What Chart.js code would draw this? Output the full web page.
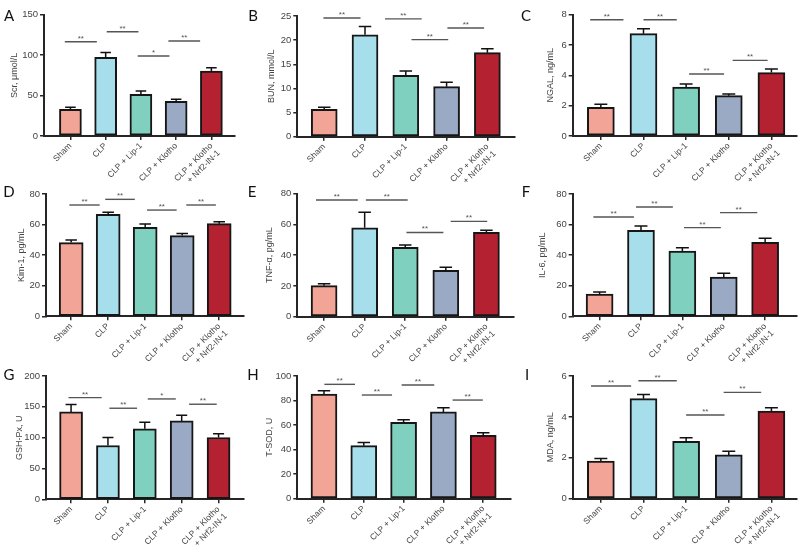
<!DOCTYPE html>
<html><head><meta charset="utf-8">
<script src="https://cdn.jsdelivr.net/npm/chart.js@4.4.1/dist/chart.umd.min.js"></script>
<style>
body{margin:0;background:#fff;width:799px;height:557px;position:relative;overflow:hidden}
canvas{position:absolute}
.lt{position:absolute;font:400 15px Lato, sans-serif;color:#111;line-height:15px;transform:translate(-50%,-50%)}
</style></head><body>
<script>
// ---------- data ----------
const categories = ['Sham', 'CLP', 'CLP + Lip-1', 'CLP + Klotho', ['CLP + Klotho', '+ Nrf2-IN-1']];
const barColors = ['#F2A596', '#A7DEEC', '#7FD0BF', '#9AA9C4', '#B42131'];

const scrMean = [33.0, 97.3, 51.5, 42.9, 80.4];
const scrErr  = [2.4, 6.1, 4.1, 2.4, 4.1];
const scrSig  = [[-0.16, 0.75, 116.6, '**'], [1.03, 1.93, 129, '**'], [1.91, 2.81, 98.9, '*'], [2.78, 3.68, 117.4, '**']];

const bunMean = [5.66, 21.1, 12.7, 10.36, 17.4];
const bunErr  = [0.42, 1.7, 0.9, 0.9, 0.8];
const bunSig  = [[-0.02, 0.89, 24.6, '**'], [1.49, 2.39, 24.4, '**'], [2.14, 3.04, 20.1, '**'], [3.02, 3.92, 22.5, '**']];

const ngalMean = [1.89, 6.75, 3.23, 2.66, 4.18];
const ngalErr  = [0.2, 0.33, 0.2, 0.11, 0.24];
const ngalSig  = [[-0.25, 0.53, 7.67, '**'], [1.0, 1.78, 7.67, '**'], [2.07, 2.89, 4.09, '**'], [3.09, 3.91, 4.99, '**']];

const kimMean = [48.2, 66.7, 58.2, 52.8, 60.6];
const kimErr  = [1.7, 1.3, 2.2, 1.3, 1.3];
const kimSig  = [[-0.05, 0.77, 72.8, '**'], [0.92, 1.72, 76.5, '**'], [2.05, 2.85, 69.5, '**'], [3.11, 3.91, 72.8, '**']];

const tnfMean = [20.2, 57.8, 45.2, 30.2, 54.8];
const tnfErr  = [1.3, 10.2, 1.5, 2.0, 1.5];
const tnfSig  = [[-0.2, 0.83, 75.9, '**'], [1.03, 2.06, 75.9, '**'], [2.03, 2.94, 54.8, '**'], [3.12, 4.02, 62.0, '**']];

const il6Mean = [14.6, 56.2, 42.7, 25.7, 48.4];
const il6Err  = [1.3, 2.9, 2.2, 2.4, 2.6];
const il6Sig  = [[-0.15, 0.83, 65.0, '**'], [0.88, 1.77, 71.5, '**'], [2.04, 2.93, 58.0, '**'], [2.91, 3.81, 67.8, '**']];

const gshMean = [141.8, 87.3, 114.3, 127.2, 100.3];
const gshErr  = [11.8, 13.0, 10.8, 9.2, 5.9];
const gshSig  = [[-0.07, 0.83, 165, '**'], [1.04, 1.79, 147.7, '**'], [2.08, 2.84, 162.8, '*'], [3.2, 3.95, 154.2, '**']];

const sodMean = [85.3, 43.2, 62.2, 70.7, 51.6];
const sodErr  = [2.7, 2.7, 2.2, 3.5, 2.2];
const sodSig  = [[0.01, 0.78, 93.2, '**'], [0.95, 1.71, 84.5, '**'], [1.95, 2.77, 92.7, '**'], [3.23, 3.99, 80.4, '**']];

const mdaMean = [1.84, 4.89, 2.80, 2.14, 4.29];
const mdaErr  = [0.12, 0.21, 0.18, 0.18, 0.16];
const mdaSig  = [[-0.23, 0.71, 5.51, '**'], [0.88, 1.78, 5.77, '**'], [2.0, 2.9, 4.09, '**'], [2.88, 3.76, 5.2, '**']];

const yTitles = ['Scr, μmol/L', 'BUN, mmol/L', 'NGAL, ng/mL', 'Kim-1, pg/mL', 'TNF-α, pg/mL', 'IL-6, pg/mL', 'GSH-Px, U', 'T-SOD, U', 'MDA, ng/mL'];
const yMaxes  = [150, 25, 8, 80, 80, 80, 200, 100, 6];
const ySteps  = [50, 5, 2, 20, 20, 20, 50, 20, 2];
const panelLetters = ['A', 'B', 'C', 'D', 'E', 'F', 'G', 'H', 'I'];

const means = [scrMean, bunMean, ngalMean, kimMean, tnfMean, il6Mean, gshMean, sodMean, mdaMean];
const errs  = [scrErr, bunErr, ngalErr, kimErr, tnfErr, il6Err, gshErr, sodErr, mdaErr];
const sigs  = [scrSig, bunSig, ngalSig, kimSig, tnfSig, il6Sig, gshSig, sodSig, mdaSig];

// ---------- layout (page pixels) ----------
const colLeft = [0, 262, 527];
const rowTop = [0, 182, 364];
const geo = [
  {l:44,    r:235,   t:14.7,  b:136,   xmin:-0.75, xmax:4.67, bw:22, tx:15},
  {l:297.3, r:514.3, t:16,    b:136.7, xmin:-0.66, xmax:4.66, bw:26, tx:272},
  {l:572.7, r:797,   t:14.7,  b:136,   xmin:-0.66, xmax:4.60, bw:27, tx:551},
  {l:46,    r:244,   t:194,   b:316.3, xmin:-0.68, xmax:4.67, bw:24, tx:22},
  {l:297.3, r:514,   t:193.7, b:316.7, xmin:-0.66, xmax:4.68, bw:26, tx:270},
  {l:572.7, r:797,   t:194,   b:316.3, xmin:-0.65, xmax:4.77, bw:27, tx:543},
  {l:46,    r:244,   t:376,   b:499.3, xmin:-0.68, xmax:4.69, bw:23, tx:20},
  {l:297.3, r:510.3, t:376,   b:498.7, xmin:-0.67, xmax:4.68, bw:26, tx:270},
  {l:572.7, r:797,   t:376,   b:498.7, xmin:-0.66, xmax:4.60, bw:27, tx:551}
];
const letterPos = [[9,15],[253,15],[526,15],[9,191],[252,191],[526,191],[9,374],[253,374],[527,374]];

const FONT = "'Liberation Sans', Arial, sans-serif";
const AXIS = '#262626';

function annotPlugin(mean, err, sig) {
  return {
    id: 'annot',
    afterDatasetsDraw(chart) {
      const {ctx, scales: {x, y}} = chart;
      const meta = chart.getDatasetMeta(0);
      ctx.save();
      ctx.strokeStyle = '#111';
      ctx.lineWidth = 1.5;
      err.forEach((e, i) => {
        const bar = meta.data[i];
        const top = y.getPixelForValue(mean[i] + e);
        const hw = bar.width * 0.24;
        ctx.beginPath();
        ctx.moveTo(bar.x, bar.y);
        ctx.lineTo(bar.x, top);
        ctx.moveTo(bar.x - hw, top);
        ctx.lineTo(bar.x + hw, top);
        ctx.stroke();
      });
      ctx.strokeStyle = '#555';
      ctx.fillStyle = '#555';
      ctx.lineWidth = 1.4;
      ctx.font = '8px ' + FONT;
      ctx.textAlign = 'center';
      ctx.textBaseline = 'alphabetic';
      sig.forEach(([a, b, v, label]) => {
        const x1 = x.getPixelForValue(a), x2 = x.getPixelForValue(b), ly = y.getPixelForValue(v);
        ctx.beginPath();
        ctx.moveTo(x1, ly);
        ctx.lineTo(x2, ly);
        ctx.stroke();
        ctx.fillText(label, (x1 + x2) / 2, ly - 1);
      });
      ctx.restore();
    }
  };
}

geo.forEach((g, k) => {
  const col = k % 3, row = Math.floor(k / 3);
  const left = colLeft[col], top = rowTop[row];
  const W = Math.round(col === 2 ? 799 - left : g.r - left + 4);
  const H = Math.round(g.b + 58 - top);
  const cv = document.createElement('canvas');
  cv.width = W; cv.height = H;
  cv.style.left = left + 'px'; cv.style.top = top + 'px';
  cv.style.width = W + 'px'; cv.style.height = H + 'px';
  document.body.appendChild(cv);
  const yw = g.l - left, xh = top + H - g.b, pt = g.t - top, pr = left + W - g.r;
  const titleSize = 9, lh = titleSize * 1.2;
  new Chart(cv, {
    type: 'bar',
    data: {
      datasets: [{
        data: means[k].map((v, i) => ({x: i, y: v})),
        backgroundColor: barColors,
        borderColor: '#161616',
        borderWidth: 2,
        borderSkipped: false,
        barThickness: g.bw
      }]
    },
    options: {
      responsive: false, animation: false, devicePixelRatio: 1,
      layout: {padding: {top: pt, right: pr, left: 0, bottom: 0}},
      plugins: {legend: {display: false}, tooltip: {enabled: false}},
      scales: {
        x: {
          type: 'linear', min: g.xmin, max: g.xmax, offset: false,
          afterBuildTicks: s => { s.ticks = categories.map((c, i) => ({value: i})); },
          afterFit: s => { s.height = xh; },
          ticks: {callback: v => categories[v], minRotation: 45, maxRotation: 45, autoSkip: false,
                  font: {family: FONT, size: 8.5}, color: '#444', padding: 1},
          grid: {offset: false, drawOnChartArea: false, tickLength: 4, color: AXIS, lineWidth: 1.5},
          border: {color: AXIS, width: 2}
        },
        y: {
          min: 0, max: yMaxes[k],
          afterFit: s => { s.width = yw; },
          ticks: {stepSize: ySteps[k], font: {family: FONT, size: 9.5}, color: '#444', padding: 2},
          grid: {drawOnChartArea: false, tickLength: 4, color: AXIS, lineWidth: 1.5},
          border: {color: AXIS, width: 2},
          title: {display: true, text: yTitles[k], font: {family: FONT, size: titleSize}, color: '#444',
                  padding: {top: g.tx - left - lh / 2, bottom: 0}}
        }
      }
    },
    plugins: [annotPlugin(means[k], errs[k], sigs[k])]
  });
  const d = document.createElement('div');
  d.className = 'lt';
  d.textContent = panelLetters[k];
  d.style.left = letterPos[k][0] + 'px';
  d.style.top = letterPos[k][1] + 'px';
  document.body.appendChild(d);
});
</script>
</body></html>
